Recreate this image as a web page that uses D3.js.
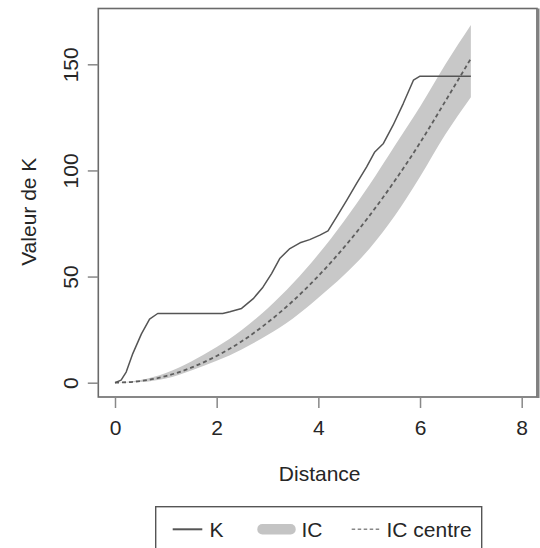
<!DOCTYPE html>
<html>
<head>
<meta charset="utf-8">
<script src="https://cdn.jsdelivr.net/npm/d3@7"></script>
<style>
  html, body { margin: 0; padding: 0; background: #fff; }
  svg { display: block; font-family: "Liberation Sans", Arial, Helvetica, sans-serif; }
</style>
</head>
<body>
<svg id="chart" width="540" height="548"></svg>
<script>
// ---- data ----
const kDistance = [0, 0.12, 0.22, 0.35, 0.52, 0.68, 0.84, 2.12, 2.26, 2.49, 2.72, 2.91, 3.08, 3.24, 3.44, 3.64, 3.83, 4.03, 4.19, 4.36, 4.56, 4.75, 4.95, 5.11, 5.28, 5.47, 5.67, 5.87, 6.0, 7.0];
const kValues   = [0, 1.2, 5, 13.7, 23, 30, 32.6, 32.6, 33.4, 35, 39.6, 45, 51.4, 58.5, 63.2, 65.9, 67.4, 69.5, 71.5, 78.1, 86, 93.8, 101.7, 108.7, 112.7, 121.3, 131.5, 142.5, 144.4, 144.4];

const icDistance = [0, 0.5, 1, 1.5, 2, 2.5, 3, 3.5, 4, 4.5, 5, 5.5, 6, 6.5, 7];
const icLower    = [0, 0.3, 2, 5.8, 10.3, 15.8, 22.5, 30.3, 40, 50.6, 63, 78.5, 97, 117, 134.5];
const icUpper    = [0, 1.3, 4.6, 10, 16.8, 25, 35, 46.8, 60.5, 76, 93, 111.5, 130, 150, 168.5];
const icCentre   = [0, 0.8, 3.1, 7.1, 12.6, 19.6, 28.3, 38.5, 50.3, 63.6, 78.5, 95, 113, 132.7, 152.7];

const xTicks = [0, 2, 4, 6, 8];
const yTicks = [0, 50, 100, 150];
const xTitle = "Distance";
const yTitle = "Valeur de K";
const legendLabels = ["K", "IC", "IC centre"];

// ---- layout ----
const svg = d3.select("#chart");
const box = { left: 98.3, right: 537, top: 8.5, bottom: 397 };
const x = d3.scaleLinear().domain([0, 8]).range([115, 521.7]);
const y = d3.scaleLinear().domain([0, 150]).range([382.7, 64.3]);
const FONT = 21;
const TXT = "#262626";

svg.append("rect").attr("width", 540).attr("height", 548).attr("fill", "#fff");

// band
const icData = icDistance.map((d, i) => ({ d, lo: icLower[i], hi: icUpper[i], c: icCentre[i] }));
svg.append("path")
  .datum(icData)
  .attr("fill", "#c8c8c8")
  .attr("d", d3.area().x(p => x(p.d)).y0(p => y(p.lo)).y1(p => y(p.hi)).curve(d3.curveMonotoneX));

// centre
svg.append("path")
  .datum(icData)
  .attr("fill", "none")
  .attr("stroke", "#5e5e5e")
  .attr("stroke-width", 1.8)
  .attr("stroke-dasharray", "4,3")
  .attr("d", d3.line().x(p => x(p.d)).y(p => y(p.c)).curve(d3.curveMonotoneX));

// K line
const kData = kDistance.map((d, i) => ({ d, v: kValues[i] }));
svg.append("path")
  .datum(kData)
  .attr("fill", "none")
  .attr("stroke", "#555")
  .attr("stroke-width", 1.5)
  .attr("stroke-linejoin", "round")
  .attr("d", d3.line().x(p => x(p.d)).y(p => y(p.v)));

// box
svg.append("rect")
  .attr("x", box.left).attr("y", box.top)
  .attr("width", box.right - box.left).attr("height", box.bottom - box.top)
  .attr("fill", "none").attr("stroke", "#6a6a6a").attr("stroke-width", 1.6);
svg.append("line")
  .attr("x1", box.right + 1).attr("x2", box.right + 1)
  .attr("y1", box.top).attr("y2", box.bottom + 1)
  .attr("stroke", "#808080").attr("stroke-width", 3);

// x axis
const xAxis = d3.axisBottom(x).tickValues(xTicks).tickSize(11).tickPadding(12).tickFormat(d3.format("d"));
const gx = svg.append("g").attr("transform", `translate(0,${box.bottom})`).call(xAxis);
gx.select(".domain").remove();
gx.selectAll(".tick line").attr("stroke", "#888").attr("stroke-width", 1.5);
gx.selectAll(".tick text").attr("font-size", FONT).attr("fill", TXT)
  .attr("font-family", "Liberation Sans, Arial, sans-serif");

// y axis
const yAxis = d3.axisLeft(y).tickValues(yTicks).tickSize(10.5).tickPadding(0).tickFormat(d3.format("d"));
const gy = svg.append("g").attr("transform", `translate(${box.left},0)`).call(yAxis);
gy.select(".domain").remove();
gy.selectAll(".tick line").attr("stroke", "#888").attr("stroke-width", 1.5);
gy.selectAll(".tick text")
  .attr("font-size", FONT).attr("fill", TXT)
  .attr("font-family", "Liberation Sans, Arial, sans-serif")
  .attr("x", null).attr("dy", null)
  .attr("text-anchor", "middle")
  .attr("transform", "translate(-20,0) rotate(-90)")
  .attr("dominant-baseline", "auto")
  .attr("y", 0);

// axis titles
svg.append("text")
  .attr("x", (box.left + box.right) / 2 + 2).attr("y", 481)
  .attr("text-anchor", "middle").attr("font-size", FONT).attr("fill", TXT)
  .text(xTitle);
svg.append("text")
  .attr("transform", `translate(35.5,${(box.top + box.bottom) / 2 + 9}) rotate(-90)`)
  .attr("text-anchor", "middle").attr("font-size", FONT).attr("fill", TXT)
  .text(yTitle);

// legend
const lg = svg.append("g");
lg.append("rect")
  .attr("x", 155.7).attr("y", 506.7).attr("width", 326).attr("height", 60)
  .attr("fill", "#fff").attr("stroke", "#555").attr("stroke-width", 1.4);
const ly = 529.3;
lg.append("line").attr("x1", 172.7).attr("x2", 202.3).attr("y1", ly).attr("y2", ly)
  .attr("stroke", "#555").attr("stroke-width", 2);
lg.append("rect").attr("x", 257.3).attr("y", 524).attr("width", 38.4).attr("height", 10.5)
  .attr("rx", 5).attr("fill", "#c4c4c4");
lg.append("line").attr("x1", 351.7).attr("x2", 380).attr("y1", ly).attr("y2", ly)
  .attr("stroke", "#888").attr("stroke-width", 1.5).attr("stroke-dasharray", "3.5,2.5");
const lx = [209.5, 301.5, 386.5];
legendLabels.forEach((t, i) => {
  lg.append("text").attr("x", lx[i]).attr("y", ly + 7.5)
    .attr("font-size", FONT).attr("fill", TXT).text(t);
});
</script>
</body>
</html>
